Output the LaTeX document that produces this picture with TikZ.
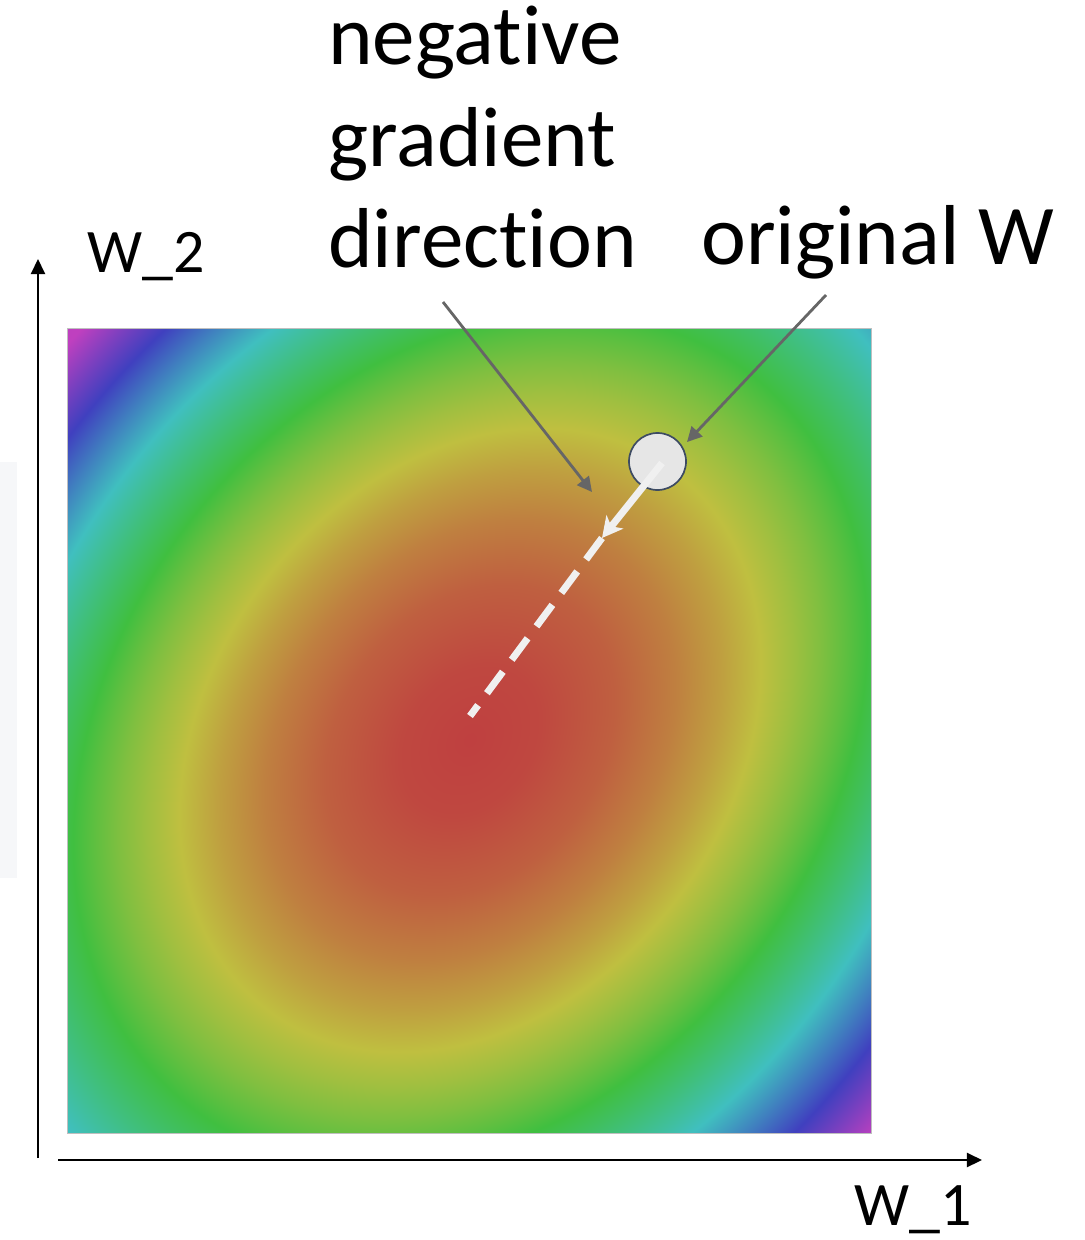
\documentclass[tikz,border=0pt]{standalone}
\usepackage{fontspec}
\setmainfont{Carlito}[Ligatures=NoCommon]
\usetikzlibrary{arrows.meta}
\definecolor{arrowgray}{HTML}{666666}
\definecolor{circfill}{HTML}{E6E6E6}
\definecolor{circedge}{HTML}{3D4B63}
\definecolor{pathwhite}{HTML}{F0F0F0}
\definecolor{faintgray}{HTML}{F6F7F9}
\pgfdeclareradialshading{heatmap}{\pgfpoint{0bp}{0bp}}{%
rgb(0bp)=(.75,.25,.25);
rgb(2.5bp)=(.75,.281,.25);
rgb(5.175bp)=(.75,.375,.25);
rgb(7.32bp)=(.75,.5,.25);
rgb(8.965bp)=(.75,.625,.25);
rgb(10.35bp)=(.75,.75,.25);
rgb(11.5bp)=(.625,.75,.25);
rgb(12.5bp)=(.5,.75,.25);
rgb(13.35bp)=(.375,.75,.25);
rgb(14.14bp)=(.25,.75,.25);
rgb(15bp)=(.25,.75,.375);
rgb(15.81bp)=(.25,.75,.5);
rgb(16.585bp)=(.25,.75,.625);
rgb(17.32bp)=(.25,.75,.75);
rgb(18.03bp)=(.25,.625,.75);
rgb(18.71bp)=(.25,.5,.75);
rgb(19.365bp)=(.25,.375,.75);
rgb(20bp)=(.25,.25,.75);
rgb(20.615bp)=(.375,.25,.75);
rgb(21.215bp)=(.5,.25,.75);
rgb(21.795bp)=(.625,.25,.75);
rgb(22.36bp)=(.75,.25,.75);
rgb(50bp)=(.75,.25,.75)}
\begin{document}
\begin{tikzpicture}[x=0.025cm, y=-0.025cm,
  axisline/.style={black, line width=1.4pt, -{Triangle[length=10.7pt, width=10pt]}},
  grayarrow/.style={arrowgray, line width=2pt, -{Triangle[length=10.5pt, width=10.5pt]}},
  whitesolid/.style={pathwhite, line width=5pt, -{Stealth[length=14.6pt, width=15.2pt, inset=4pt]}},
  whitedash/.style={pathwhite, line width=5pt, dash pattern=on 19pt off 10.6pt},
  biglbl/.style={inner sep=0pt, anchor=base west, font=\fontsize{60.5}{72.5}\selectfont},
  axlbl/.style={inner sep=0pt, anchor=base west, font=\fontsize{44}{52}\selectfont}]
\useasboundingbox (0,0) rectangle (1084,1240);
% faint panel at the left edge
\fill[faintgray] (0,462) rectangle (17,878);
% heat map
\begin{scope}
  \clip (67,328) rectangle (871,1133);
  \begin{scope}[transform canvas={shift={(470,740)}, rotate=53.13, xscale=10.1875, yscale=7.8625}]
    \shade[shading=heatmap] (0,0) circle (2cm);
  \end{scope}
\end{scope}
\draw[gray!50, line width=0.6pt] (67,328) rectangle (871,1133);
% axes
\coordinate (ybot) at (38,1158);
\coordinate (ytop) at (38,259);
\coordinate (xleft) at (58,1160);
\coordinate (xright) at (982,1160);
\draw[axisline] (ybot) -- (ytop);
\draw[axisline] (xleft) -- (xright);
% labels
\node[axlbl] (w2) at (87,273) {W\_2};
\node[axlbl] (w1) at (854,1225) {W\_1};
\node[biglbl, align=left] (neg) at (328,268) {negative\\gradient\\direction};
\node[biglbl] (orig) at (701,265) {original W};
% original W point
\node[circle, draw=circedge, fill=circfill, line width=1.2pt, minimum size=1.425cm, inner sep=0pt] (circ) at (657.5,461.5) {};
% gradient step
\coordinate (wstart) at (662,463);
\coordinate (wtip) at (602,538);
\coordinate (wend) at (470,716);
\draw[whitesolid] (wstart) -- (wtip);
\draw[whitedash] (wtip) -- (wend);
% callout connectors
\coordinate (negstart) at (443,302);
\coordinate (negtip) at (592,492);
\coordinate (origstart) at (826,295);
\coordinate (origtip) at (687,442);
\draw[grayarrow] (negstart) -- (negtip);
\draw[grayarrow] (origstart) -- (origtip);
\end{tikzpicture}
\end{document}
